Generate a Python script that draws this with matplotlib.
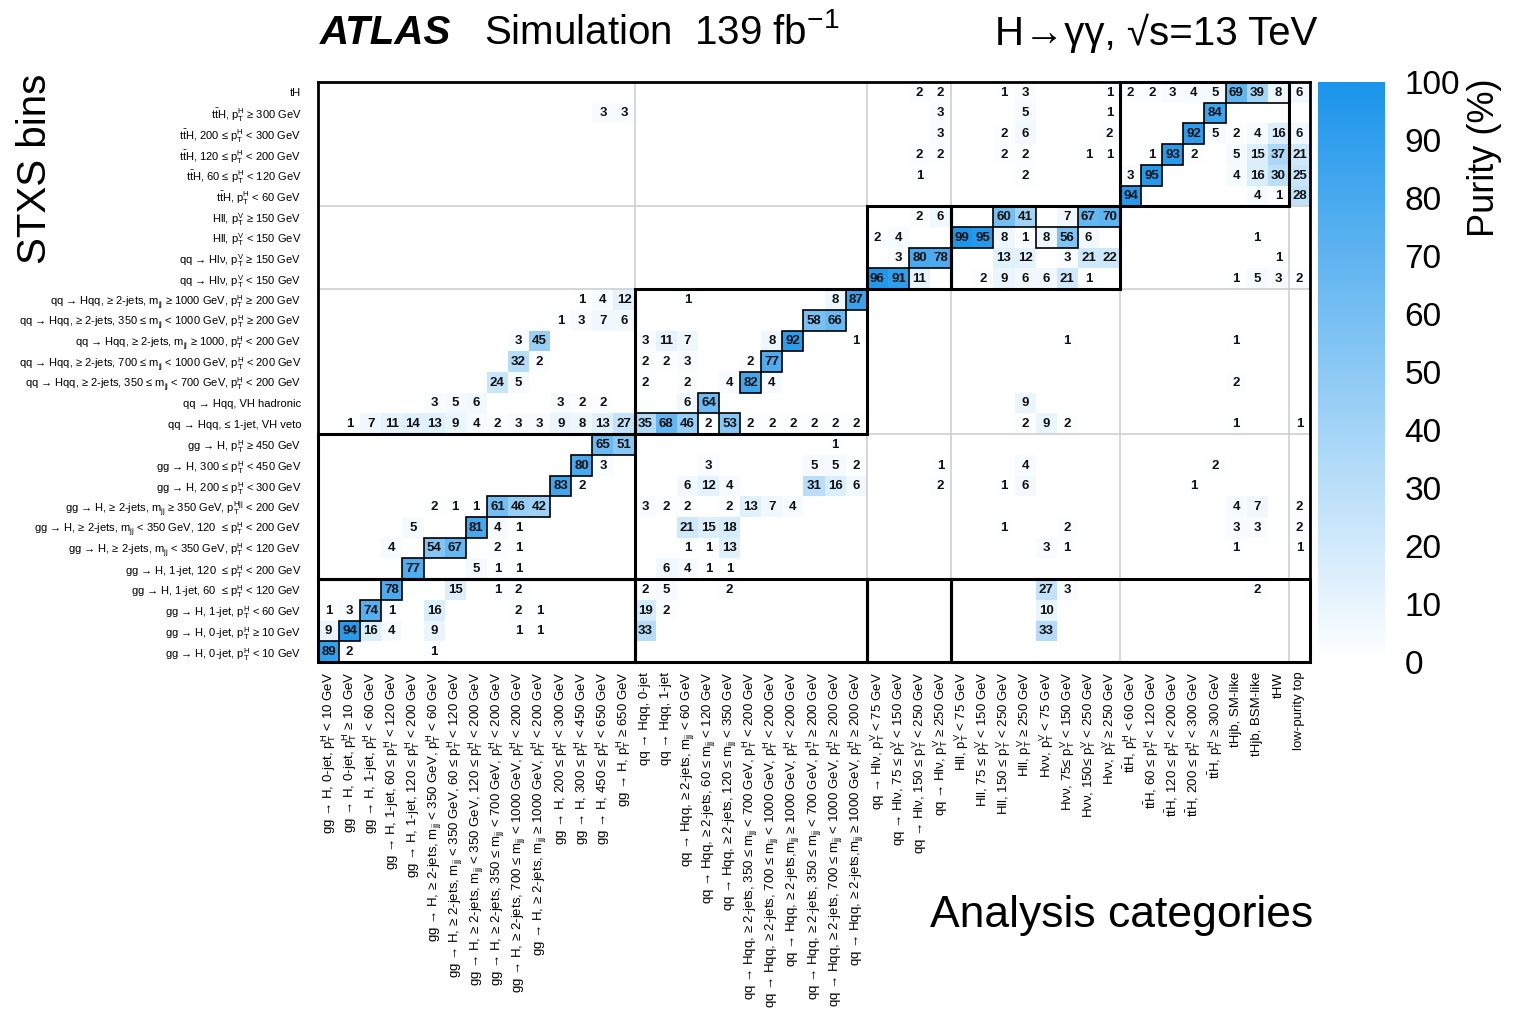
import numpy as np
import matplotlib
matplotlib.use('Agg')
import matplotlib.pyplot as plt
from matplotlib.colors import LinearSegmentedColormap
from matplotlib.patches import Rectangle

plt.rcParams['font.family'] = ['Liberation Sans', 'DejaVu Sans']
plt.rcParams['mathtext.fontset'] = 'custom'
plt.rcParams['mathtext.rm'] = 'Liberation Sans'
plt.rcParams['mathtext.it'] = 'Liberation Sans:italic'
plt.rcParams['mathtext.bf'] = 'Liberation Sans:bold'

pTH = r'$\mathrm{p}_\mathrm{T}^\mathrm{H}$'
pTV = r'$\mathrm{p}_\mathrm{T}^\mathrm{V}$'
pTHjj = r'$\mathrm{p}_\mathrm{T}^\mathrm{Hjj}$'
mjj = r'$\mathrm{m}_\mathrm{jj}$'
ttH = r'$\mathrm{t\bar{t}H}$'

# STXS bins, top to bottom
stxs_bins = [
    'tH',
    f'{ttH}, {pTH} ≥ 300 GeV',
    f'{ttH}, 200 ≤ {pTH} < 300 GeV',
    f'{ttH}, 120 ≤ {pTH} < 200 GeV',
    f'{ttH}, 60 ≤ {pTH} < 120 GeV',
    f'{ttH}, {pTH} < 60 GeV',
    f'Hll, {pTV} ≥ 150 GeV',
    f'Hll, {pTV} < 150 GeV',
    f'qq → Hlν, {pTV} ≥ 150 GeV',
    f'qq → Hlν, {pTV} < 150 GeV',
    f'qq → Hqq, ≥ 2-jets, {mjj} ≥ 1000 GeV, {pTH} ≥ 200 GeV',
    f'qq → Hqq, ≥ 2-jets, 350 ≤ {mjj} < 1000 GeV, {pTH} ≥ 200 GeV',
    f'qq → Hqq, ≥ 2-jets, {mjj} ≥ 1000, {pTH} < 200 GeV',
    f'qq → Hqq, ≥ 2-jets, 700 ≤ {mjj} < 1000 GeV, {pTH} < 200 GeV',
    f'qq → Hqq, ≥ 2-jets, 350 ≤ {mjj} < 700 GeV, {pTH} < 200 GeV',
    'qq → Hqq, VH hadronic',
    'qq → Hqq, ≤ 1-jet, VH veto',
    f'gg → H, {pTH} ≥ 450 GeV',
    f'gg → H, 300 ≤ {pTH} < 450 GeV',
    f'gg → H, 200 ≤ {pTH} < 300 GeV',
    f'gg → H, ≥ 2-jets, {mjj} ≥ 350 GeV, {pTHjj} < 200 GeV',
    f'gg → H, ≥ 2-jets, {mjj} < 350 GeV, 120  ≤ {pTH} < 200 GeV',
    f'gg → H, ≥ 2-jets, {mjj} < 350 GeV, {pTH} < 120 GeV',
    f'gg → H, 1-jet, 120  ≤ {pTH} < 200 GeV',
    f'gg → H, 1-jet, 60  ≤ {pTH} < 120 GeV',
    f'gg → H, 1-jet, {pTH} < 60 GeV',
    f'gg → H, 0-jet, {pTH} ≥ 10 GeV',
    f'gg → H, 0-jet, {pTH} < 10 GeV',
]

# analysis categories, left to right
categories = [
    f'gg → H, 0-jet, {pTH} < 10 GeV',
    f'gg → H, 0-jet, {pTH} ≥ 10 GeV',
    f'gg → H, 1-jet, {pTH} < 60 GeV',
    f'gg → H, 1-jet, 60 ≤ {pTH} < 120 GeV',
    f'gg → H, 1-jet, 120 ≤ {pTH} < 200 GeV',
    f'gg → H, ≥ 2-jets, {mjj} < 350 GeV, {pTH} < 60 GeV',
    f'gg → H, ≥ 2-jets, {mjj} < 350 GeV, 60 ≤ {pTH} < 120 GeV',
    f'gg → H, ≥ 2-jets, {mjj} < 350 GeV, 120 ≤ {pTH} < 200 GeV',
    f'gg → H, ≥ 2-jets, 350 ≤ {mjj} < 700 GeV, {pTH} < 200 GeV',
    f'gg → H, ≥ 2-jets, 700 ≤ {mjj} < 1000 GeV, {pTH} < 200 GeV',
    f'gg → H, ≥ 2-jets, {mjj} ≥ 1000 GeV, {pTH} < 200 GeV',
    f'gg → H, 200 ≤ {pTH} < 300 GeV',
    f'gg → H, 300 ≤ {pTH} < 450 GeV',
    f'gg → H, 450 ≤ {pTH} < 650 GeV',
    f'gg → H, {pTH} ≥ 650 GeV',
    'qq → Hqq, 0-jet',
    'qq → Hqq, 1-jet',
    f'qq → Hqq, ≥ 2-jets, {mjj} < 60 GeV',
    f'qq → Hqq, ≥ 2-jets, 60 ≤ {mjj} < 120 GeV',
    f'qq → Hqq, ≥ 2-jets, 120 ≤ {mjj} < 350 GeV',
    f'qq → Hqq, ≥ 2-jets, 350 ≤ {mjj} < 700 GeV, {pTH} < 200 GeV',
    f'qq → Hqq, ≥ 2-jets, 700 ≤ {mjj} < 1000 GeV, {pTH} < 200 GeV',
    f'qq → Hqq, ≥ 2-jets,{mjj} ≥ 1000 GeV, {pTH} < 200 GeV',
    f'qq → Hqq, ≥ 2-jets, 350 ≤ {mjj} < 700 GeV, {pTH} ≥ 200 GeV',
    f'qq → Hqq, ≥ 2-jets, 700 ≤ {mjj} < 1000 GeV, {pTH} ≥ 200 GeV',
    f'qq → Hqq, ≥ 2-jets,{mjj} ≥ 1000 GeV, {pTH} ≥ 200 GeV',
    f'qq → Hlν, {pTV} < 75 GeV',
    f'qq → Hlν, 75 ≤ {pTV} < 150 GeV',
    f'qq → Hlν, 150 ≤ {pTV} < 250 GeV',
    f'qq → Hlν, {pTV} ≥ 250 GeV',
    f'Hll, {pTV} < 75 GeV',
    f'Hll, 75 ≤ {pTV} < 150 GeV',
    f'Hll, 150 ≤ {pTV} < 250 GeV',
    f'Hll, {pTV} ≥ 250 GeV',
    f'Hνν, {pTV} < 75 GeV',
    f'Hνν, 75≤ {pTV} < 150 GeV',
    f'Hνν, 150≤ {pTV} < 250 GeV',
    f'Hνν, {pTV} ≥ 250 GeV',
    f'{ttH}, {pTH} < 60 GeV',
    f'{ttH}, 60 ≤ {pTH} < 120 GeV',
    f'{ttH}, 120 ≤ {pTH} < 200 GeV',
    f'{ttH}, 200 ≤ {pTH} < 300 GeV',
    f'{ttH}, {pTH} ≥ 300 GeV',
    'tHjb, SM-like',
    'tHjb, BSM-like',
    'tHW',
    'low-purity top',
]

# purity (%) per STXS bin: {category index: value}
purity = [
    {28: 2, 29: 2, 32: 1, 33: 3, 37: 1, 38: 2, 39: 2, 40: 3, 41: 4, 42: 5, 43: 69, 44: 39, 45: 8, 46: 6},
    {13: 3, 14: 3, 29: 3, 33: 5, 37: 1, 42: 84},
    {29: 3, 32: 2, 33: 6, 37: 2, 41: 92, 42: 5, 43: 2, 44: 4, 45: 16, 46: 6},
    {28: 2, 29: 2, 32: 2, 33: 2, 36: 1, 37: 1, 39: 1, 40: 93, 41: 2, 43: 5, 44: 15, 45: 37, 46: 21},
    {28: 1, 33: 2, 38: 3, 39: 95, 43: 4, 44: 16, 45: 30, 46: 25},
    {38: 94, 44: 4, 45: 1, 46: 28},
    {28: 2, 29: 6, 32: 60, 33: 41, 35: 7, 36: 67, 37: 70},
    {26: 2, 27: 4, 30: 99, 31: 95, 32: 8, 33: 1, 34: 8, 35: 56, 36: 6, 44: 1},
    {27: 3, 28: 80, 29: 78, 32: 13, 33: 12, 35: 3, 36: 21, 37: 22, 45: 1},
    {26: 96, 27: 91, 28: 11, 31: 2, 32: 9, 33: 6, 34: 6, 35: 21, 36: 1, 43: 1, 44: 5, 45: 3, 46: 2},
    {12: 1, 13: 4, 14: 12, 17: 1, 24: 8, 25: 87},
    {11: 1, 12: 3, 13: 7, 14: 6, 23: 58, 24: 66},
    {9: 3, 10: 45, 15: 3, 16: 11, 17: 7, 21: 8, 22: 92, 25: 1, 35: 1, 43: 1},
    {9: 32, 10: 2, 15: 2, 16: 2, 17: 3, 20: 2, 21: 77},
    {8: 24, 9: 5, 15: 2, 17: 2, 19: 4, 20: 82, 21: 4, 43: 2},
    {5: 3, 6: 5, 7: 6, 11: 3, 12: 2, 13: 2, 17: 6, 18: 64, 33: 9},
    {1: 1, 2: 7, 3: 11, 4: 14, 5: 13, 6: 9, 7: 4, 8: 2, 9: 3, 10: 3, 11: 9, 12: 8, 13: 13, 14: 27,
     15: 35, 16: 68, 17: 46, 18: 2, 19: 53, 20: 2, 21: 2, 22: 2, 23: 2, 24: 2, 25: 2,
     33: 2, 34: 9, 35: 2, 43: 1, 46: 1},
    {13: 65, 14: 51, 24: 1},
    {12: 80, 13: 3, 18: 3, 23: 5, 24: 5, 25: 2, 29: 1, 33: 4, 42: 2},
    {11: 83, 12: 2, 17: 6, 18: 12, 19: 4, 23: 31, 24: 16, 25: 6, 29: 2, 32: 1, 33: 6, 41: 1},
    {5: 2, 6: 1, 7: 1, 8: 61, 9: 46, 10: 42, 15: 3, 16: 2, 17: 2, 19: 2, 20: 13, 21: 7, 22: 4,
     43: 4, 44: 7, 46: 2},
    {4: 5, 7: 81, 8: 4, 9: 1, 17: 21, 18: 15, 19: 18, 32: 1, 35: 2, 43: 3, 44: 3, 46: 2},
    {3: 4, 5: 54, 6: 67, 8: 2, 9: 1, 17: 1, 18: 1, 19: 13, 34: 3, 35: 1, 43: 1, 46: 1},
    {4: 77, 7: 5, 8: 1, 9: 1, 16: 6, 17: 4, 18: 1, 19: 1},
    {3: 78, 6: 15, 8: 1, 9: 2, 15: 2, 16: 5, 19: 2, 34: 27, 35: 3, 44: 2},
    {0: 1, 1: 3, 2: 74, 3: 1, 5: 16, 9: 2, 10: 1, 15: 19, 16: 2, 34: 10},
    {0: 9, 1: 94, 2: 16, 3: 4, 5: 9, 9: 1, 10: 1, 15: 33, 34: 33},
    {0: 89, 1: 2, 5: 1},
]

# (row, first col, last col) of the highlighted diagonal cells
diag_boxes = [(27, 0, 0), (26, 1, 1), (25, 2, 2), (24, 3, 3), (23, 4, 4), (22, 5, 6),
              (21, 7, 7), (20, 8, 10), (19, 11, 11), (18, 12, 12), (17, 13, 14),
              (16, 15, 17), (16, 19, 19), (15, 18, 18), (14, 20, 20), (13, 21, 21),
              (12, 22, 22), (11, 23, 24), (10, 25, 25), (9, 26, 27), (8, 28, 29),
              (7, 30, 31), (7, 34, 35), (6, 32, 33), (6, 36, 37), (5, 38, 38),
              (4, 39, 39), (3, 40, 40), (2, 41, 41), (1, 42, 42), (0, 43, 45)]

# (first row, last row, first col, last col) of the process blocks
blocks = [(0, 5, 38, 45), (6, 9, 26, 29), (6, 9, 30, 37), (10, 16, 15, 25),
          (17, 23, 0, 14), (24, 27, 0, 14), (24, 27, 15, 25), (24, 27, 26, 29),
          (24, 27, 30, 46)]
row_groups = [6, 10, 17, 24]
col_groups = [15, 26, 30, 38, 46]

n_rows, n_cols = len(stxs_bins), len(categories)
mat = np.zeros((n_rows, n_cols))
for r, row in enumerate(purity):
    for c, v in row.items():
        mat[r, c] = v

cmap = LinearSegmentedColormap.from_list('pur', ['#ffffff', '#1a94ea'])

fig = plt.figure(figsize=(15.15, 10.18), dpi=100)
ax = fig.add_axes([318 / 1515, 1 - 662 / 1018, 992 / 1515, 580 / 1018])
mesh = ax.pcolormesh(np.arange(n_cols + 1), np.arange(n_rows + 1),
                     np.ma.masked_equal(mat, 0), cmap=cmap, vmin=0, vmax=100)
ax.set_xlim(0, n_cols)
ax.set_ylim(n_rows, 0)

for y in row_groups:
    ax.axhline(y, color='#cfcfcf', lw=1.2, zorder=1)
for x in col_groups:
    ax.axvline(x, color='#cfcfcf', lw=1.2, zorder=1)

for r in range(n_rows):
    for c in range(n_cols):
        if mat[r, c] > 0:
            ax.text(c + 0.5, r + 0.52, f'{int(mat[r, c])}', ha='center', va='center',
                    fontsize=9.5, fontweight='bold', color='#111111', zorder=4)

for r, c0, c1 in diag_boxes:
    ax.add_patch(Rectangle((c0, r), c1 - c0 + 1, 1, fill=False, ec='black', lw=1.2, zorder=3))
for r0, r1, c0, c1 in blocks:
    ax.add_patch(Rectangle((c0, r0), c1 - c0 + 1, r1 - r0 + 1, fill=False, ec='black',
                           lw=2.2, zorder=5, clip_on=False))

ax.set_xticks(np.arange(n_cols) + 0.5)
ax.set_xticklabels(categories, rotation=90, fontsize=9.5)
ax.set_yticks(np.arange(n_rows) + 0.5)
ax.set_yticklabels(stxs_bins, fontsize=8)
ax.tick_params(axis='x', length=0, pad=7)
ax.tick_params(axis='y', length=0, pad=12)
for s in ax.spines.values():
    s.set_linewidth(2)

cax = fig.add_axes([1318 / 1515, 1 - 662 / 1018, 67 / 1515, 580 / 1018])
cb = fig.colorbar(mesh, cax=cax)
cb.outline.set_visible(False)
cb.set_ticks(range(0, 101, 10))
cax.tick_params(labelsize=24, length=0, pad=14)

fig.text(1 - 30 / 1515, 1 - 78 / 1018, 'Purity (%)', rotation=90, ha='center', va='top', fontsize=26)
fig.text(35 / 1515, 1 - 74 / 1018, 'STXS bins', rotation=90, ha='center', va='top', fontsize=29)
fig.text(320 / 1515, 1 - 33 / 1018, 'ATLAS', fontsize=29, fontweight='bold', style='italic', va='center')
fig.text(484 / 1515, 1 - 33 / 1018, 'Simulation  139 fb$^{-1}$', fontsize=29, va='center')
fig.text(995 / 1515, 1 - 33 / 1018, 'H→γγ, √s=13 TeV', fontsize=29, va='center')
fig.text(1313 / 1515, 1 - 915 / 1018, 'Analysis categories', fontsize=32, ha='right', va='center')

fig.savefig('out.png', dpi=100)
